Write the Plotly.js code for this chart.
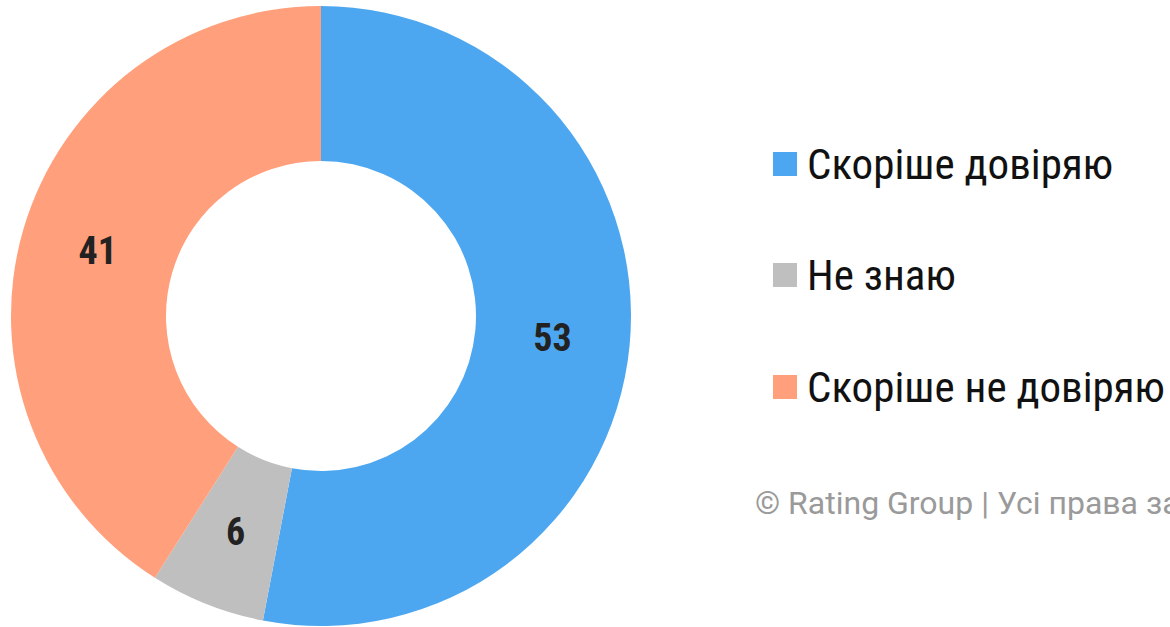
<!DOCTYPE html>
<html>
<head>
<meta charset="utf-8">
<script src="https://cdn.plot.ly/plotly-3.0.1.min.js"></script>
<style>html,body{margin:0;padding:0;background:#fff;}#chart{width:1170px;height:627px;}</style>
</head>
<body>
<div id="chart"></div>
<script>
const categories = ["Скоріше довіряю", "Не знаю", "Скоріше не довіряю"];
const values = [53, 6, 41];
const colors = ["#4da7f0", "#bfbfbf", "#ff9f7b"];
const copyright = "© Rating Group | Усі права захищені";

const W = 1170, H = 627;
const FONT_C = "Roboto Condensed, Liberation Sans Narrow, DejaVu Sans Condensed, Roboto, sans-serif";
const px = x => x / W;
const py = y => 1 - y / H;

// pie geometry (pixels)
const PIE = {x0: 11, x1: 631, y0: 6, y1: 626};
const HOLE = 0.5;

// slices whose label Plotly would push outward (too narrow) get a label at the ring's mid radius
const total = values.reduce((a, b) => a + b, 0);
const narrow = values.map(v => v / total < 0.1);

const trace = {
  type: "pie",
  labels: categories,
  values: values,
  marker: {colors: colors, line: {width: 0}},
  hole: HOLE,
  sort: false,
  direction: "clockwise",
  rotation: 0,
  textinfo: "value",
  textposition: narrow.map(n => n ? "none" : "inside"),
  insidetextorientation: "horizontal",
  textfont: {family: FONT_C, size: 38, color: "#222222", weight: "bold"},
  showlegend: false,
  domain: {x: [px(PIE.x0), px(PIE.x1)], y: [py(PIE.y1), py(PIE.y0)]},
  hoverinfo: "label+value"
};

const shapes = [];
const annotations = [];

// labels for narrow slices, placed from the data (mid angle, mid ring radius)
const cx = (PIE.x0 + PIE.x1) / 2, cy = (PIE.y0 + PIE.y1) / 2;
const R = (PIE.x1 - PIE.x0) / 2;
const rMid = R * (1 + HOLE) / 2;
let cum = 0;
values.forEach((v, i) => {
  const mid = (cum + v / 2) / total * 2 * Math.PI;
  cum += v;
  if (narrow[i]) {
    annotations.push({
      xref: "paper", yref: "paper",
      x: px(cx + rMid * Math.sin(mid)), y: py(cy - rMid * Math.cos(mid)),
      xanchor: "center", yanchor: "middle", showarrow: false,
      text: String(v),
      font: {family: FONT_C, size: 38, color: "#222222", weight: "bold"}
    });
  }
});

// legend
const legendY = [164, 275, 387];
categories.forEach((c, i) => {
  shapes.push({
    type: "rect", xref: "paper", yref: "paper",
    x0: px(773), x1: px(797), y0: py(legendY[i] + 12), y1: py(legendY[i] - 12),
    fillcolor: colors[i], line: {width: 0}
  });
  annotations.push({
    xref: "paper", yref: "paper", x: px(805), y: py(legendY[i]),
    xanchor: "left", yanchor: "middle", showarrow: false,
    text: c, font: {family: FONT_C, size: 43, color: "#111111"}
  });
});
annotations.push({
  xref: "paper", yref: "paper", x: px(753), y: py(503),
  xanchor: "left", yanchor: "middle", showarrow: false,
  text: copyright, font: {family: "Roboto, sans-serif", size: 32, color: "#9a9a9a"}
});

const layout = {
  width: W, height: H,
  margin: {l: 0, r: 0, t: 0, b: 0},
  paper_bgcolor: "#ffffff",
  showlegend: false,
  shapes: shapes,
  annotations: annotations
};

Plotly.newPlot("chart", [trace], layout, {displayModeBar: false, staticPlot: true});
</script>
</body>
</html>
